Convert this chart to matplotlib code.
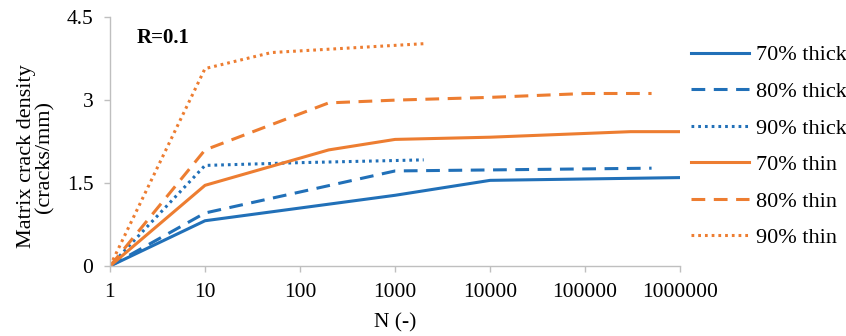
import matplotlib.pyplot as plt
import numpy as np

# values
n_70_thick = [1, 10, 1000, 10000, 1000000]
d_70_thick = [0, 0.82, 1.28, 1.55, 1.60]

n_80_thick = [1, 10, 1000, 500000]
d_80_thick = [0, 0.96, 1.72, 1.77]

n_90_thick = [1, 10, 100, 2000]
d_90_thick = [0, 1.82, 1.87, 1.92]

n_70_thin = [1, 10, 200, 1000, 10000, 300000, 1000000]
d_70_thin = [0, 1.46, 2.10, 2.29, 2.33, 2.43, 2.43]

n_80_thin = [1, 10, 200, 1000, 10000, 100000, 500000]
d_80_thin = [0, 2.10, 2.95, 3.00, 3.05, 3.12, 3.12]

n_90_thin = [1, 10, 50, 2000]
d_90_thin = [0, 3.57, 3.86, 4.02]

x_ticks = [1, 10, 100, 1000, 10000, 100000, 1000000]
x_labels = ["1", "10", "100", "1000", "10000", "100000", "1000000"]
y_ticks = [0, 1.5, 3, 4.5]
y_labels = ["0", "1.5", "3", "4.5"]

blue = "#2170B8"
orange = "#ED7D31"
solid = "-"
dashed = (0, (4.5, 2.8))
dotted = (0, (0.9, 1.3))

plt.rcParams["font.family"] = ["Liberation Serif", "DejaVu Serif"]
plt.rcParams["font.size"] = 15.5


def make_plot():
    fig = plt.figure(figsize=(8.46, 3.36), dpi=100)
    ax = fig.add_axes([0.130, 0.208, 0.674, 0.741])

    series = [
        (n_70_thick, d_70_thick, blue, solid, "70% thick"),
        (n_80_thick, d_80_thick, blue, dashed, "80% thick"),
        (n_90_thick, d_90_thick, blue, dotted, "90% thick"),
        (n_70_thin, d_70_thin, orange, solid, "70% thin"),
        (n_80_thin, d_80_thin, orange, dashed, "80% thin"),
        (n_90_thin, d_90_thin, orange, dotted, "90% thin"),
    ]
    for n, d, c, ls, lab in series:
        ax.plot(n, d, color=c, linestyle=ls, linewidth=2.2, label=lab)

    ax.set_xscale("log")
    ax.set_xlim(1, 1000000)
    ax.set_ylim(0, 4.5)
    ax.set_xticks(x_ticks)
    ax.set_xticklabels(x_labels)
    ax.minorticks_off()
    ax.set_yticks(y_ticks)
    ax.set_yticklabels(y_labels)

    for s in ["top", "right"]:
        ax.spines[s].set_visible(False)
    for s in ["left", "bottom"]:
        ax.spines[s].set_color("#BFBFBF")
        ax.spines[s].set_linewidth(1.0)
    ax.tick_params(axis="both", color="#BFBFBF", length=4, width=1.0)
    ax.tick_params(axis="x", pad=8)
    ax.tick_params(axis="y", pad=8)

    ax.set_xlabel("N (-)")
    ax.xaxis.set_label_coords(0.5, -0.19)
    ax.set_ylabel("Matrix crack density\n(cracks/mm)", fontsize=16,
                  linespacing=0.95)
    ax.yaxis.set_label_coords(-0.098, 0.44)

    ax.text(0.047, 0.955, "R=0.1", transform=ax.transAxes, fontweight="bold",
            fontsize=15, ha="left", va="top")

    ax.legend(loc="center left", bbox_to_anchor=(1.0, 0.48), frameon=False,
              fontsize=16, handlelength=2.6, labelspacing=0.72,
              handletextpad=0.3, borderaxespad=0.1)

    fig.savefig("out.png", dpi=100)


if __name__ == "__main__":
    make_plot()
